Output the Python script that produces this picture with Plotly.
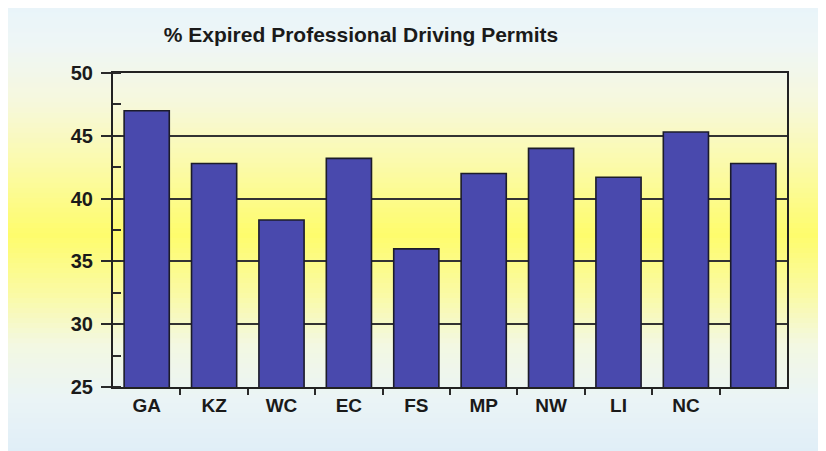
import numpy as np
import plotly.graph_objects as go

# ---- data ----
regions = ["GA", "KZ", "WC", "EC", "FS", "MP", "NW", "LI", "NC", ""]
pct_expired = [47.0, 42.8, 38.3, 43.2, 36.0, 42.0, 44.0, 41.7, 45.3, 42.8]
y_ticks = [25, 30, 35, 40, 45, 50]
title_text = "% Expired Professional Driving Permits"

W, H = 826, 451
OFF = 8  # page offset of the figure
L, R, T, B = 105, 47, 65, 72
plot_h = H - T - B
plot_w = W - L - R

# background gradient (pixel-row colour stops, in screen pixels)
stops = [(0, (232, 244, 250)), (45, (238, 246, 246)), (100, (246, 248, 222)),
         (160, (251, 250, 175)), (235, (254, 252, 108)), (295, (250, 250, 165)),
         (345, (243, 248, 226)), (400, (234, 244, 246)), (451, (224, 238, 247))]

def col_at(y):
    for (y0, c0), (y1, c1) in zip(stops[:-1], stops[1:]):
        if y0 <= y <= y1:
            t = (y - y0) / (y1 - y0)
            return tuple(int(round(a + (b - a) * t)) for a, b in zip(c0, c1))
    return stops[-1][1]

shapes = []
nb = 90
edges = np.linspace(0, H, nb + 1)
for i in range(nb):
    ya, yb = edges[i], edges[i + 1]
    c = col_at((ya + yb) / 2 + OFF)
    shapes.append(dict(type="rect", xref="paper", yref="paper",
                       x0=(0 - L) / plot_w, x1=(W - L) / plot_w,
                       y0=(H - B - yb - 0.6) / plot_h, y1=(H - B - ya + 0.6) / plot_h,
                       fillcolor="rgb(%d,%d,%d)" % c, line=dict(width=0), layer="below"))

x_pos = np.arange(len(regions))
font_family = "Liberation Sans, Arial, sans-serif"

fig = go.Figure(go.Bar(
    x=x_pos, y=pct_expired, width=0.67,
    marker=dict(color="#4949AD", line=dict(color="#1c1c2a", width=1.6)),
    hoverinfo="y",
))

fig.update_layout(
    width=W, height=H,
    margin=dict(l=L, r=R, t=T, b=B),
    paper_bgcolor="rgba(0,0,0,0)",
    plot_bgcolor="rgba(0,0,0,0)",
    shapes=shapes,
    showlegend=False,
    title=dict(text=title_text, x=(361 - OFF) / W, xref="container", xanchor="center",
               y=1 - (35 - OFF) / H, yref="container", yanchor="middle",
               font=dict(family=font_family, size=21, color="#1a1a1a", weight="bold")),
)

fig.update_yaxes(
    range=[25, 50], tickvals=y_ticks, ticks="outside", ticklen=10, tickwidth=1.5,
    tickcolor="#2a2a2a",
    minor=dict(dtick=2.5, tick0=25, ticks="inside", ticklen=8, tickwidth=1.5,
               tickcolor="#2a2a2a", showgrid=False),
    showgrid=True, gridcolor="#333333", gridwidth=1.5,
    showline=True, linecolor="#222222", linewidth=2, mirror=True,
    tickfont=dict(family=font_family, size=20, color="#1a1a1a", weight="bold"),
    ticklabelstandoff=4, zeroline=False,
)

fig.update_xaxes(
    range=[-0.5, len(regions) - 0.5],
    tickvals=x_pos, ticktext=regions, ticks="",
    minor=dict(tickvals=list(x_pos[:-1] + 0.5), ticks="outside", ticklen=6,
               tickwidth=1.5, tickcolor="#2a2a2a", showgrid=False),
    showgrid=False, showline=True, linecolor="#222222", linewidth=2, mirror=True,
    tickfont=dict(family=font_family, size=19, color="#1a1a1a", weight="bold"),
    ticklabelstandoff=0, zeroline=False,
)

fig.write_html("out.html")
